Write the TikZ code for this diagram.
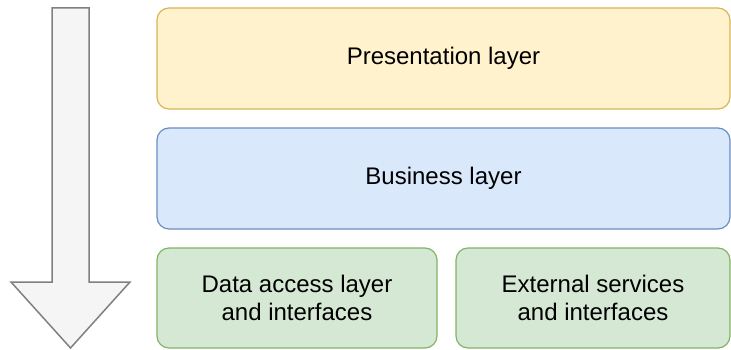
\documentclass[tikz,border=0pt]{standalone}
\usepackage{fontspec}
\setmainfont{Liberation Sans}
\definecolor{yellowfill}{HTML}{FFF2CC}
\definecolor{yellowline}{HTML}{D6B656}
\definecolor{bluefill}{HTML}{DAE8FC}
\definecolor{blueline}{HTML}{6C8EBF}
\definecolor{greenfill}{HTML}{D5E8D4}
\definecolor{greenline}{HTML}{82B366}
\definecolor{arrowfill}{HTML}{F5F5F5}
\definecolor{arrowline}{HTML}{808080}
\begin{document}
\begin{tikzpicture}[x=1pt, y=-1pt,
	  layer/.style={draw, rounded corners=12pt, line width=1.2pt, align=center,
	    inner sep=0pt, font=\fontsize{24}{28}\selectfont},
	  presentation/.style={layer, fill=yellowfill, draw=yellowline},
	  business/.style={layer, fill=bluefill, draw=blueline},
	  data/.style={layer, fill=greenfill, draw=greenline}]
	  \useasboundingbox (0,0) rectangle (731,350);

	  % direction of the calls
	  \coordinate (shaftA) at (52,8);
	  \coordinate (shaftB) at (89,8);
	  \coordinate (tip) at (70.5,348);
	  \draw [line width=1.5pt, draw=arrowline, fill=arrowfill, line join=miter]
	    (shaftA)--(shaftB)--(89,282)--(130,282)--(tip)--(11,282)--(52,282)--cycle;

	  % layers
	  \node [presentation, minimum width=573pt, minimum height=101pt] (pres) at (443.5,58.5) {Presentation layer};
	  \node [business, minimum width=573pt, minimum height=101pt] (bus) at (443.5,178.5) {Business layer};
	  \node [data, minimum width=280pt, minimum height=100pt] (dal) at (297,298) {Data access layer\\and interfaces};
	  \node [data, minimum width=274pt, minimum height=100pt] (ext) at (593,298) {External services\\and interfaces};
	\end{tikzpicture}
\end{document}
